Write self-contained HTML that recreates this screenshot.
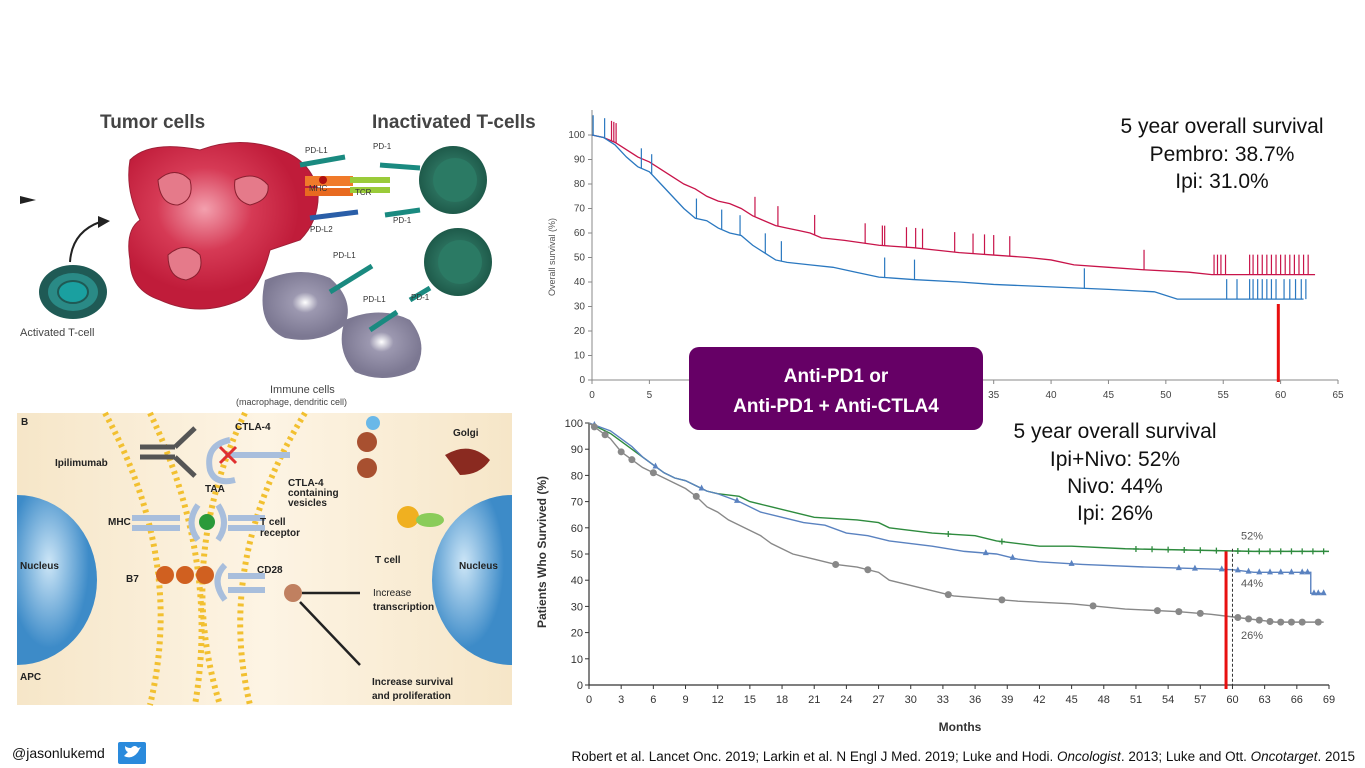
<!DOCTYPE html>
<html><head><meta charset="utf-8"><style>
html,body{margin:0;padding:0;background:#fff;}
svg{display:block;font-family:"Liberation Sans",sans-serif;}
</style></head><body>
<svg id="s" width="1365" height="768" viewBox="0 0 1365 768">
<defs>
<radialGradient id="red" cx="40%" cy="40%"><stop offset="0" stop-color="#f3a0ae"/><stop offset="0.5" stop-color="#d63a55"/><stop offset="1" stop-color="#c01c3a"/></radialGradient>
<radialGradient id="grn" cx="50%" cy="50%"><stop offset="0" stop-color="#3c8f78"/><stop offset="1" stop-color="#1e5a4a"/></radialGradient>
<radialGradient id="gry" cx="50%" cy="45%"><stop offset="0" stop-color="#ffffff"/><stop offset="0.3" stop-color="#9c98b0"/><stop offset="1" stop-color="#7c7892"/></radialGradient>
<radialGradient id="blu" cx="40%" cy="40%"><stop offset="0" stop-color="#cde6f7"/><stop offset="1" stop-color="#3d8bc8"/></radialGradient>
<linearGradient id="beige" x1="0" x2="1"><stop offset="0" stop-color="#f6e6c8"/><stop offset="0.5" stop-color="#fdf4e4"/><stop offset="1" stop-color="#f6e6c8"/></linearGradient>
</defs>

<g>
<text x="100" y="128" font-size="19" font-weight="bold" fill="#444">Tumor cells</text>
<text x="372" y="128" font-size="19" font-weight="bold" fill="#444">Inactivated T-cells</text>
<polygon points="20,196 36,200 20,204" fill="#222"/>
<path d="M70,262 Q72,232 100,222" stroke="#222" stroke-width="2" fill="none"/><polygon points="98,216 110,221 98,228" fill="#222"/>
<ellipse cx="73" cy="292" rx="34" ry="27" fill="#1f5a55"/><ellipse cx="73" cy="292" rx="25" ry="19" fill="#2a8a86"/><ellipse cx="73" cy="292" rx="15" ry="11" fill="#1aa0a0" stroke="#1f5a55" stroke-width="2"/>
<text x="20" y="336" font-size="11" fill="#444">Activated T-cell</text>
<path d="M130,160 Q150,140 200,150 Q240,135 280,150 Q310,160 318,190 Q320,220 300,240 L270,250 Q260,290 240,300 Q200,318 160,300 Q130,290 130,260 Q125,230 140,220 Q125,190 130,160Z" fill="url(#red)" stroke="#a02038" stroke-width="1"/>
<path d="M158,180 Q175,165 190,180 Q195,200 178,205 Q160,205 158,180Z" fill="#e57a8a" stroke="#8a2030"/>
<path d="M235,180 Q255,170 268,185 Q270,200 250,205 Q232,200 235,180Z" fill="#e57a8a" stroke="#8a2030"/>
<path d="M168,255 Q185,240 200,255 Q205,275 186,280 Q168,278 168,255Z" fill="#e57a8a" stroke="#8a2030"/>
<circle cx="453" cy="180" r="34" fill="url(#grn)"/><circle cx="455" cy="180" r="22" fill="#2b7a64"/>
<circle cx="458" cy="262" r="34" fill="url(#grn)"/><circle cx="460" cy="262" r="22" fill="#2b7a64"/>
<path d="M265,280 Q300,265 330,278 Q355,300 345,325 Q320,345 285,338 Q255,325 265,280Z" fill="url(#gry)"/>
<path d="M345,320 Q380,305 410,320 Q430,345 415,370 Q385,385 355,372 Q335,350 345,320Z" fill="url(#gry)"/>
<g stroke="#1a8a80" stroke-width="5"><line x1="300" y1="165" x2="345" y2="157"/><line x1="330" y1="292" x2="372" y2="266"/><line x1="370" y1="330" x2="397" y2="312"/><line x1="380" y1="165" x2="420" y2="168"/><line x1="385" y1="215" x2="420" y2="210"/><line x1="410" y1="300" x2="430" y2="288"/></g>
<line x1="310" y1="218" x2="358" y2="212" stroke="#2a5ea8" stroke-width="5"/>
<rect x="305" y="176" width="48" height="10" fill="#f07a2a"/><rect x="305" y="188" width="48" height="8" fill="#e86a20"/><circle cx="323" cy="180" r="4" fill="#b01010"/>
<path d="M350,180 L390,180 M350,190 L390,190" stroke="#9acb3a" stroke-width="6"/>
<g font-size="8" fill="#333"><text x="305" y="153">PD-L1</text><text x="373" y="149">PD-1</text><text x="309" y="191">MHC</text><text x="355" y="195">TCR</text><text x="310" y="232">PD-L2</text><text x="393" y="223">PD-1</text><text x="333" y="258">PD-L1</text><text x="363" y="302">PD-L1</text><text x="411" y="300">PD-1</text></g>
<text x="270" y="393" font-size="11" fill="#444">Immune cells</text>
<text x="236" y="405" font-size="9" fill="#444">(macrophage, dendritic cell)</text>
</g>

<g>
<rect x="17" y="413" width="495" height="292" fill="url(#beige)"/>
<path d="M17,495 A80,85 0 0,1 17,665 Z" fill="url(#blu)"/>
<path d="M512,495 A80,85 0 0,0 512,665 Z" fill="url(#blu)"/>
<g fill="none" stroke="#f2c030" stroke-width="6" stroke-dasharray="3 4">
<path d="M105,413 Q185,560 150,705"/><path d="M150,413 Q220,560 195,705"/>
<path d="M245,413 Q175,560 220,705"/><path d="M305,413 Q215,560 250,705"/></g>
<g fill="none" stroke="#a8bedc" stroke-width="6"><path d="M230,440 Q205,445 210,470 Q215,485 235,480"/><line x1="225" y1="455" x2="290" y2="455"/><path d="M132,518 L180,518 M132,528 L180,528 M228,518 L265,518 M228,528 L265,528"/><path d="M198,505 Q185,523 198,540 M218,505 Q230,523 218,540"/><path d="M225,565 Q210,580 225,600 M228,576 L265,576 M228,590 L265,590"/></g>
<g stroke="#555" stroke-width="5"><line x1="140" y1="447" x2="175" y2="447"/><line x1="140" y1="457" x2="175" y2="457"/><line x1="175" y1="447" x2="195" y2="428"/><line x1="175" y1="457" x2="195" y2="476"/></g>
<path d="M220,447 L236,463 M236,447 L220,463" stroke="#e03030" stroke-width="3"/>
<circle cx="207" cy="522" r="8" fill="#2a9a3a"/>
<g fill="#d06020"><circle cx="165" cy="575" r="9"/><circle cx="185" cy="575" r="9"/><circle cx="205" cy="575" r="9"/></g>
<circle cx="293" cy="593" r="9" fill="#c08060"/>
<path d="M302,593 L360,593 M300,602 L360,665" stroke="#222" stroke-width="2.5"/>
<g fill="#a85030"><circle cx="367" cy="442" r="10"/><circle cx="367" cy="468" r="10"/></g>
<circle cx="373" cy="423" r="7" fill="#6ab8e8"/><circle cx="408" cy="517" r="11" fill="#f0b020"/><ellipse cx="430" cy="520" rx="14" ry="7" fill="#8acc5a"/>
<path d="M445,455 Q470,440 490,460 Q480,475 460,475 Z" fill="#8a2a20"/>
<g font-size="10" font-weight="bold" fill="#222">
<text x="21" y="425">B</text><text x="55" y="466">Ipilimumab</text><text x="235" y="430">CTLA-4</text><text x="205" y="492">TAA</text>
<text x="288" y="486">CTLA-4</text><text x="288" y="496">containing</text><text x="288" y="506">vesicles</text>
<text x="108" y="525">MHC</text><text x="260" y="525">T cell</text><text x="260" y="536">receptor</text>
<text x="20" y="569">Nucleus</text><text x="459" y="569">Nucleus</text><text x="126" y="582">B7</text><text x="257" y="573">CD28</text>
<text x="375" y="563">T cell</text><text x="453" y="436">Golgi</text>
<text x="373" y="596" font-weight="normal">Increase</text><text x="373" y="610">transcription</text>
<text x="20" y="680">APC</text><text x="372" y="685">Increase survival</text><text x="372" y="699">and proliferation</text>
</g></g>

<g id="top"></g>
<g id="bot"></g>

<g>
<rect x="689" y="347" width="294" height="83" rx="10" fill="#660066"/>
<text x="836" y="382" text-anchor="middle" font-size="19" font-weight="bold" fill="#fff">Anti-PD1 or</text>
<text x="836" y="412" text-anchor="middle" font-size="19" font-weight="bold" fill="#fff">Anti-PD1 + Anti-CTLA4</text>
</g>

<g font-size="21" fill="#111" text-anchor="middle">
<text x="1222" y="133">5 year overall survival</text><text x="1222" y="161">Pembro: 38.7%</text><text x="1222" y="188">Ipi: 31.0%</text></g>
<g font-size="21" fill="#111" text-anchor="middle">
<text x="1115" y="438">5 year overall survival</text><text x="1115" y="466">Ipi+Nivo: 52%</text><text x="1115" y="493">Nivo: 44%</text><text x="1115" y="520">Ipi: 26%</text></g>

<text x="12" y="758" font-size="14" fill="#111">@jasonlukemd</text>
<rect x="118" y="742" width="28" height="22" rx="2" fill="#2a8adc"/>
<path d="M124,756 Q132,760 138,752 Q140,748 141,747 L138,748 Q135,744 131,748 Q127,748 125,746 Q125,751 128,752 Q126,754 124,756Z" fill="#fff"/>
<text x="1355" y="761" font-size="13.5" fill="#111" text-anchor="end">Robert et al. Lancet Onc. 2019; Larkin et al. N Engl J Med. 2019; Luke and Hodi. <tspan font-style="italic">Oncologist</tspan>. 2013; Luke and Ott. <tspan font-style="italic">Oncotarget</tspan>. 2015</text>
</svg>
<script>
// ---- top chart data ----
const topXTicks=[0,5,10,15,20,25,30,35,40,45,50,55,60,65];
const topYTicks=[0,10,20,30,40,50,60,70,80,90,100];
const pembroT=[0,1,2,3,4,5,6,7,8,9,10,11,12,13,14,15,16,17,18,19,20,22,25,28,30,32,35,38,40,42,45,48,52,54,63];
const pembroS=[100,99,97,94,91,89,86,83,80,78,75,73,72,70,67,65,63,62,61,60,58,57,55,54,53,52,51,50,49,47,46,45,44,43,43];
const ipiTopT=[0,1,2,3,4,5,6,7,8,9,10,11,12,13,14,15,16,17,19,21,23,25,28,32,35,40,45,49,51,62];
const ipiTopS=[100,99,96,91,87,85,80,75,70,66,65,62,60,59,55,52,49,48,47,46,44,42,41,40,39,38,37,36,33,33];
const pembroCens=[1.7,1.9,2.1,14.2,16.2,19.4,23.8,25.3,25.5,27.4,28.2,28.8,31.6,33.2,34.2,35.0,36.4,48.1,54.2,54.5,54.8,55.2,57.3,57.6,58.0,58.4,58.8,59.2,59.6,60.0,60.4,60.8,61.2,61.6,62.0,62.4];
const ipiTopCens=[0.1,1.1,4.3,5.2,9.1,11.3,12.9,15.1,16.5,25.5,28.1,42.9,55.3,56.2,57.3,57.6,58.0,58.4,58.8,59.2,59.6,60.3,60.8,61.3,61.8,62.2];
// ---- bottom chart data ----
const botXTicks=[0,3,6,9,12,15,18,21,24,27,30,33,36,39,42,45,48,51,54,57,60,63,66,69];
const botYTicks=[0,10,20,30,40,50,60,70,80,90,100];
const comboT=[0,1,2,3,4,5,6,7,8,9,10,11,12,14,15,16,17,19,21,25,27,28,32,36,38,42,45,50,62,69];
const comboS=[100,98,96,93,90,87,84,81,79,78,76,74,73,72,70,69,68,66,64,63,62,60,58,57,55,53,53,52,51,51];
const nivoT=[0,2,3,4,5,6,7,8,9,10,11,12,14,16,18,20,22,24,26,28,32,35,38,40,42,46,52,60,62,67.3,67.3,68.5];
const nivoS=[100,97,94,91,87,84,81,79,78,76,74,73,70,66,64,62,61,58,57,55,53,51,50,48,47,46,45,44,43,43,35,35];
const ipiBotT=[0,1,2,3,4,5,6,7,8,9,10,11,12,13,14,15,16,17,18,19,21,23,25,27,28,30,31,32,34,37,40,45,50,55,58,60,62,64,68.5];
const ipiBotS=[100,97,94,89,86,83,81,79,77,75,72,68,66,63,61,59,57,54,52,50,48,46,45,43,40,38,37,36,34,33,32,31,29,28,27,26,25,24,24];
const comboMarks=[33.5,38.5,51,52.5,54,55.5,57,58.5,60.5,61.5,62.5,63.5,64.5,65.5,66.5,67.5,68.5];
const nivoMarks=[0.5,6.2,10.5,13.8,37,39.5,45,55,56.5,59,60.5,61.5,62.5,63.5,64.5,65.5,66.5,67,67.6,68,68.5];
const ipiBotMarks=[0.5,1.5,3,4,6,10,23,26,33.5,38.5,47,53,55,57,60.5,61.5,62.5,63.5,64.5,65.5,66.5,68];

const NS='http://www.w3.org/2000/svg';
function mk(tag,attrs,parent){const e=document.createElementNS(NS,tag);for(const k in attrs)e.setAttribute(k,attrs[k]);parent.appendChild(e);return e;}
function valAt(T,S,t){for(let i=1;i<T.length;i++){if(t<=T[i]){const f=(T[i]-T[i-1])>0?(t-T[i-1])/(T[i]-T[i-1]):1;return S[i-1]+f*(S[i]-S[i-1]);}}return S[S.length-1];}
function linePath(T,S,xs,ys){let d='M'+xs(T[0])+','+ys(S[0]);for(let i=1;i<T.length;i++){d+=' L'+xs(T[i])+','+ys(S[i]);}return d;}

(function(){
 const g=document.getElementById('top');
 const x0=592,x1=1338,y0=380,y1=135;
 const xs=t=>x0+(t/65)*(x1-x0), ys=v=>y0-(v/100)*(y0-y1);
 const ax=mk('line',{x1:x0,y1:y0,x2:x1,y2:y0,stroke:'#888','stroke-width':1},g);
 
 const ay=mk('line',{x1:x0,y1:y0,x2:x0,y2:110,stroke:'#888','stroke-width':1},g);
 
 topXTicks.forEach(t=>{mk('line',{x1:xs(t),y1:y0,x2:xs(t),y2:y0+4,stroke:'#888'},g);
  const tx=mk('text',{x:xs(t),y:y0+18,'font-size':10,'text-anchor':'middle',fill:'#444'},g);tx.textContent=t;
  });
 topYTicks.forEach(v=>{mk('line',{x1:x0-4,y1:ys(v),x2:x0,y2:ys(v),stroke:'#888'},g);
  const tx=mk('text',{x:x0-7,y:ys(v)+3,'font-size':10,'text-anchor':'end',fill:'#444'},g);tx.textContent=v;
  });
 const yl=mk('text',{x:0,y:0,'font-size':9,'text-anchor':'middle',fill:'#555',transform:'translate(555,257) rotate(-90)'},g);yl.textContent='Overall survival (%)';
 
 const p1=mk('path',{d:linePath(pembroT,pembroS,xs,ys),fill:'none',stroke:'#c8144a','stroke-width':1.3},g);
 
 const p2=mk('path',{d:linePath(ipiTopT,ipiTopS,xs,ys),fill:'none',stroke:'#2a78c0','stroke-width':1.3},g);
 
 pembroCens.forEach(t=>{const v=valAt(pembroT,pembroS,t);const l=mk('line',{x1:xs(t),y1:ys(v),x2:xs(t),y2:ys(v)-20,stroke:'#c8144a','stroke-width':1.2},g);
  });
 ipiTopCens.forEach(t=>{const v=valAt(ipiTopT,ipiTopS,t);const l=mk('line',{x1:xs(t),y1:ys(v),x2:xs(t),y2:ys(v)-20,stroke:'#2a78c0','stroke-width':1.2},g);
  });
 const r=mk('line',{x1:xs(59.8),y1:ys(31),x2:xs(59.8),y2:y0+2,stroke:'#e81010','stroke-width':3},g);
 
})();

(function(){
 const g=document.getElementById('bot');
 const x0=589,x1=1329,y0=685,y1=423;
 const xs=t=>x0+(t/69)*(x1-x0), ys=v=>y0-(v/100)*(y0-y1);
 const ax=mk('line',{x1:x0,y1:y0,x2:x1,y2:y0,stroke:'#333','stroke-width':1.2},g);
 
 const ay=mk('line',{x1:x0,y1:y0,x2:x0,y2:y1,stroke:'#333','stroke-width':1.2},g);
 
 botXTicks.forEach(t=>{mk('line',{x1:xs(t),y1:y0,x2:xs(t),y2:y0+4,stroke:'#333'},g);
  const tx=mk('text',{x:xs(t),y:y0+18,'font-size':11,'text-anchor':'middle',fill:'#333'},g);tx.textContent=t;
  });
 botYTicks.forEach(v=>{mk('line',{x1:x0-4,y1:ys(v),x2:x0,y2:ys(v),stroke:'#333'},g);
  const tx=mk('text',{x:x0-6,y:ys(v)+4,'font-size':11,'text-anchor':'end',fill:'#333'},g);tx.textContent=v;
  });
 const xl=mk('text',{x:960,y:731,'font-size':12,'font-weight':'bold','text-anchor':'middle',fill:'#333'},g);xl.textContent='Months';
 
 const yl=mk('text',{x:0,y:0,'font-size':12,'font-weight':'bold','text-anchor':'middle',fill:'#333',transform:'translate(546,552) rotate(-90)'},g);yl.textContent='Patients Who Survived (%)';
 
 const series=[[comboT,comboS,'#2e8b3e','combo'],[nivoT,nivoS,'#5a82c0','nivo'],[ipiBotT,ipiBotS,'#888','ipi']];
 series.forEach(s=>{const p=mk('path',{d:linePath(s[0],s[1],xs,ys),fill:'none',stroke:s[2],'stroke-width':1.4},g);
  });
 comboMarks.forEach(t=>{const x=xs(t),y=ys(valAt(comboT,comboS,t));const m=mk('path',{d:`M${x-3},${y} H${x+3} M${x},${y-3} V${y+3}`,stroke:'#2e8b3e','stroke-width':1.3},g);
  });
 nivoMarks.forEach(t=>{const x=xs(t),y=ys(valAt(nivoT,nivoS,t));const m=mk('polygon',{points:`${x-3},${y+2} ${x+3},${y+2} ${x},${y-4}`,fill:'#5a82c0'},g);
  });
 ipiBotMarks.forEach(t=>{const x=xs(t),y=ys(valAt(ipiBotT,ipiBotS,t));const m=mk('circle',{cx:x,cy:y,r:3.5,fill:'#888'},g);
  });
 const dl=mk('line',{x1:xs(60),y1:ys(52),x2:xs(60),y2:y0,stroke:'#333','stroke-width':1,'stroke-dasharray':'3 2'},g);
 
 const rl=mk('line',{x1:xs(59.4),y1:ys(51),x2:xs(59.4),y2:y0+4,stroke:'#e81010','stroke-width':3},g);
 
 [['52%',57],['44%',39],['26%',19]].forEach(a=>{const tx=mk('text',{x:xs(60.8),y:ys(a[1])+4,'font-size':11,fill:'#555'},g);tx.textContent=a[0];
  });
})();
</script>
</body></html>
